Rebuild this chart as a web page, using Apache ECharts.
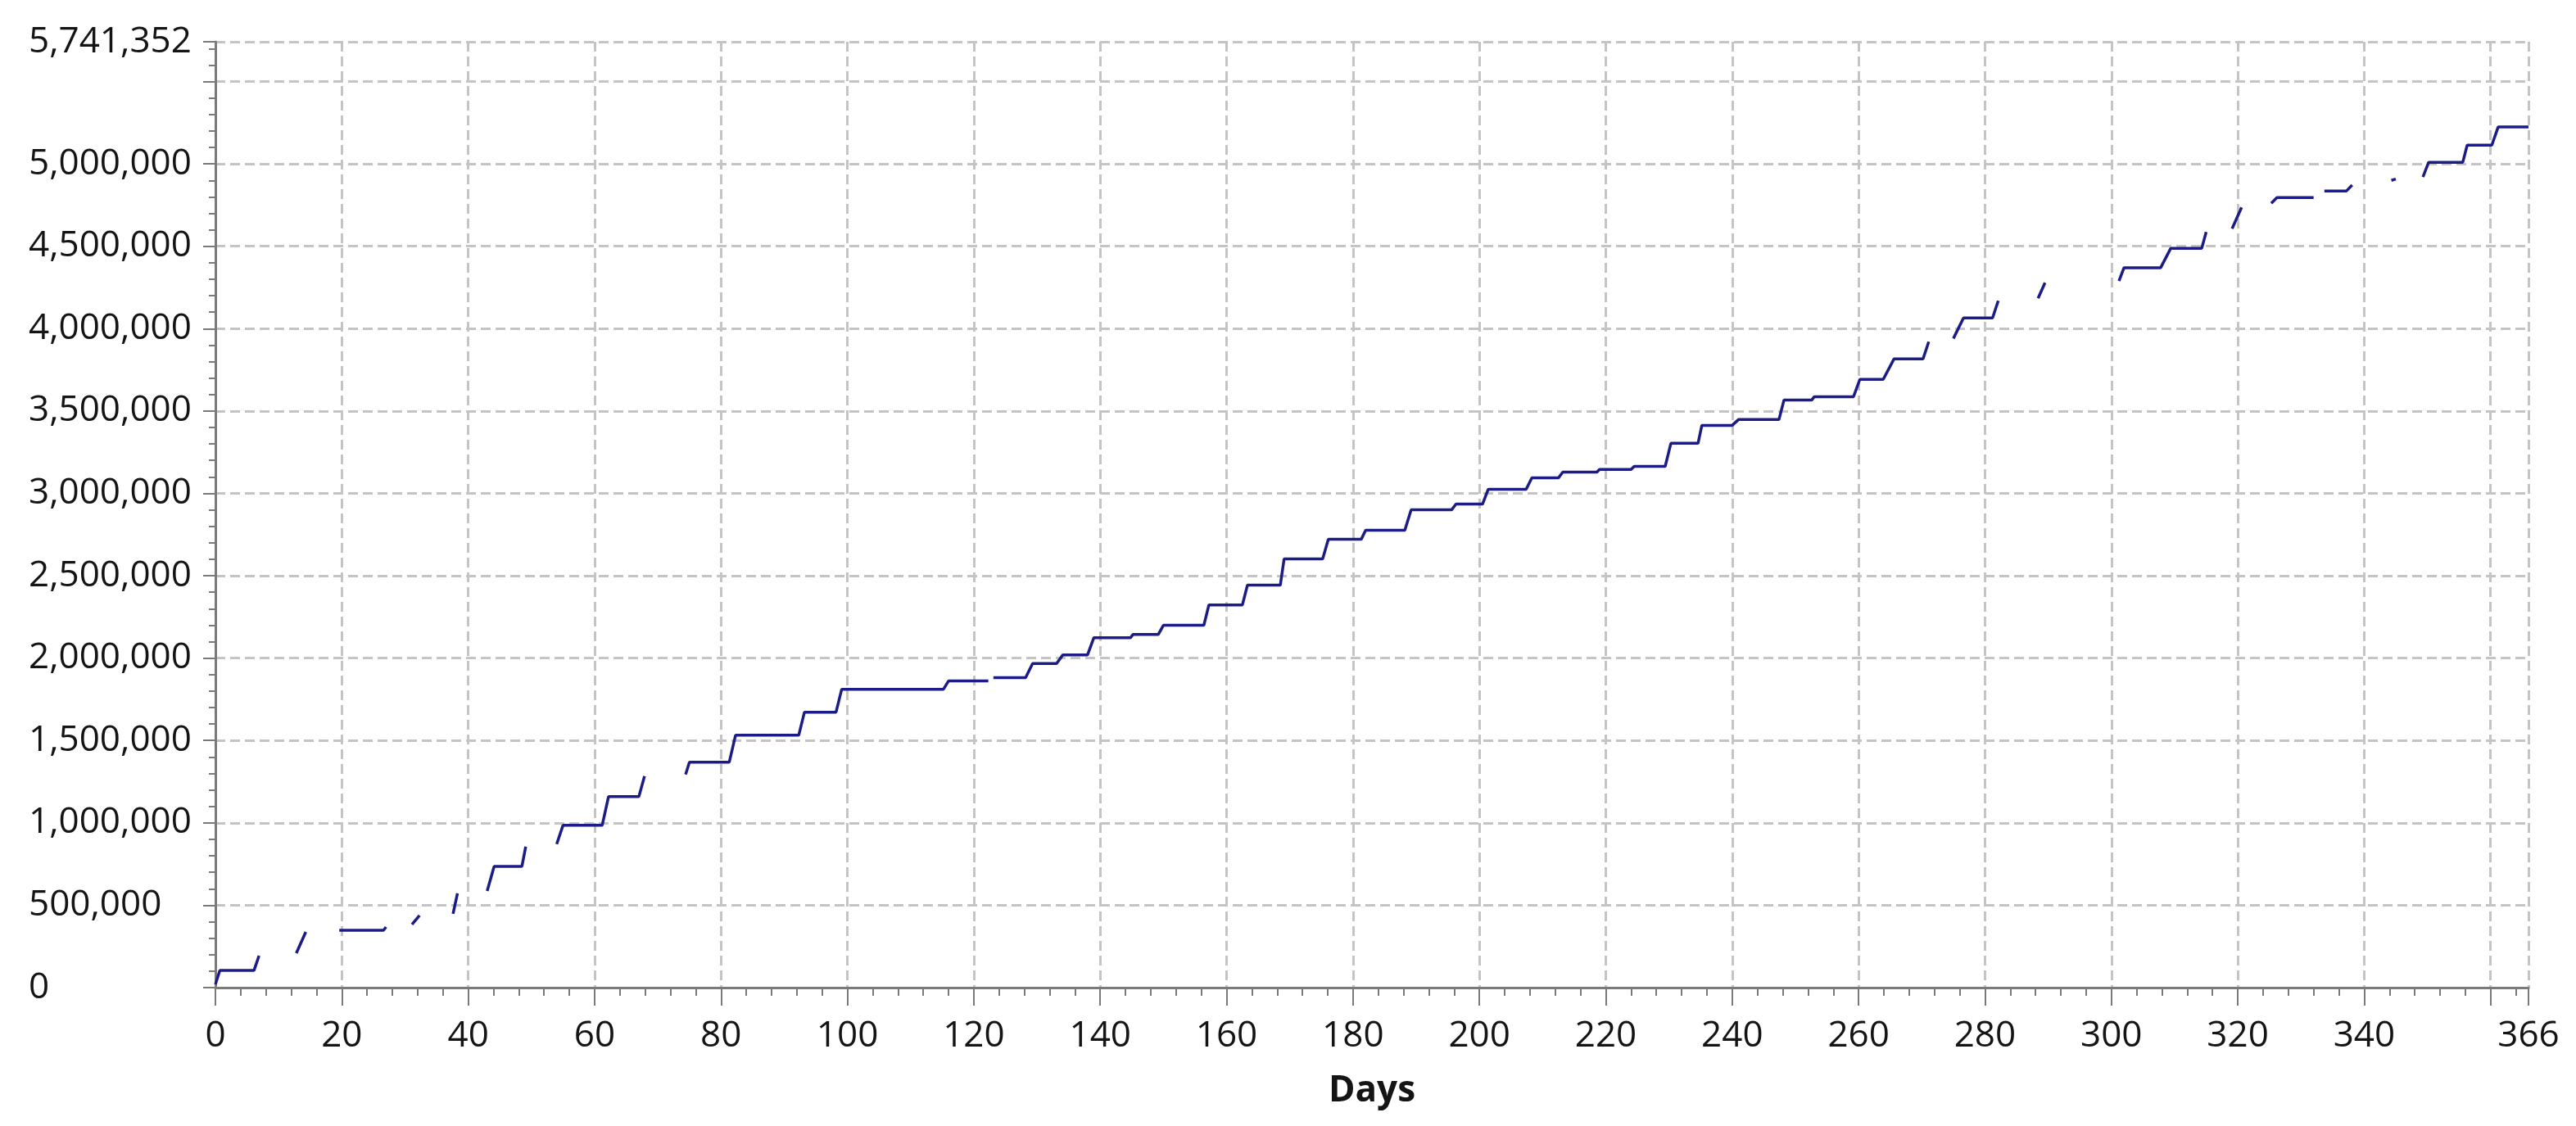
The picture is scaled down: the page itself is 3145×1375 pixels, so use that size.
<!DOCTYPE html>
<html>
<head>
<meta charset="utf-8">
<script src="https://cdn.jsdelivr.net/npm/echarts@6/dist/echarts.min.js"></script>
<style>
html,body{margin:0;padding:0;background:#fff;}
#chart{width:3145px;height:1375px;}
</style>
</head>
<body>
<div id="chart"></div>
<script>
// Day positions and cumulative values (null = gap in the line)
var days = [
  0, 0.7, 6.1, 6.9, 9.9,
  12.8, 14.3, 17,
  19.6, 26.6, 27.0, 29,
  31.1, 32.3, 35,
  37.6, 38.3, 40.5,
  43.0, 44.1, 48.5, 49.1, 51.5,
  54.0, 55.0, 61.2, 62.2, 67.0, 67.9, 71,
  74.4, 75.0, 81.3, 82.3, 92.3, 93.2, 98.2, 99.1, 115.2, 116.0, 122.3, 122.7,
  123.1, 128.2, 129.3, 133.1, 134.1, 138.0, 139.0, 144.8, 145.2, 149.2, 150.0,
  156.4, 157.2, 162.5, 163.3, 168.5, 169.1, 175.2, 176.1, 181.3, 182.0, 188.2,
  189.2, 195.6, 196.3, 200.5, 201.4, 207.4, 208.3, 212.5, 213.2, 218.6, 219.0,
  224.0, 224.5, 229.4, 230.3, 234.6, 235.2, 240.0, 241.0, 247.4, 248.2, 252.6,
  253.0, 259.2, 260.2, 263.9, 265.6, 270.2, 271.1, 273,
  275.0, 276.6, 281.2, 282.1, 285,
  288.4, 289.5, 295,
  301.2, 302.0, 307.8, 309.4, 314.3, 315.0, 317,
  319.1, 320.6, 323,
  325.3, 326.2, 332.0, 332.8,
  333.7, 337.2, 338.1, 341,
  344.3, 345.0, 347,
  349.3, 350.2, 355.6, 356.3, 360.2, 361.2, 366.0
];
var values = [
  20000, 104000, 104000, 194000, null,
  209000, 338000, null,
  348000, 348000, 368000, null,
  383000, 438000, null,
  448000, 572000, null,
  587000, 736000, 736000, 856000, null,
  871000, 985000, 985000, 1159000, 1159000, 1284000, null,
  1294000, 1368000, 1368000, 1532000, 1532000, 1672000, 1672000, 1811000, 1811000, 1861000, 1861000, null,
  1881000, 1881000, 1967000, 1967000, 2020000, 2020000, 2124000, 2124000, 2144000, 2144000, 2199000,
  2199000, 2323000, 2323000, 2443000, 2443000, 2602000, 2602000, 2721000, 2721000, 2776000, 2776000,
  2900000, 2900000, 2935000, 2935000, 3025000, 3025000, 3094000, 3094000, 3129000, 3129000, 3145000,
  3145000, 3164000, 3164000, 3304000, 3304000, 3413000, 3413000, 3448000, 3448000, 3567000, 3567000,
  3587000, 3587000, 3692000, 3692000, 3816000, 3816000, 3921000, null,
  3940000, 4065000, 4065000, 4169000, null,
  4184000, 4279000, null,
  4289000, 4370000, 4370000, 4488000, 4488000, 4587000, null,
  4607000, 4736000, null,
  4761000, 4796000, 4796000, null,
  4836000, 4836000, 4871000, null,
  4900000, 4908000, null,
  4920000, 5010000, 5010000, 5114000, 5114000, 5224000, 5224000
];
var xMin = 0, xMax = 366, xStep = 20;
var yMin = 0, yMax = 5741352, yStep = 500000;
var hiddenXLabels = [360];
var hiddenYLabels = [5500000];
var xTitle = 'Days';

var FONT = 'Open Sans';
var axisColor = '#7a7a7a';
var gridColor = '#c4c4c4';
var textColor = '#141414';

var chart = echarts.init(document.getElementById('chart'), null, {renderer: 'canvas'});
chart.setOption({
  animation: false,
  backgroundColor: '#ffffff',
  grid: {left: 263, right: 58, top: 51, bottom: 169, containLabel: false, outerBoundsMode: 'none'},
  xAxis: {
    type: 'value', min: xMin, max: xMax, interval: xStep,
    axisLine: {show: true, onZero: false, lineStyle: {color: axisColor, width: 3}},
    axisTick: {show: true, length: 22, lineStyle: {color: axisColor, width: 2}},
    minorTick: {show: true, splitNumber: 5, length: 10, lineStyle: {color: axisColor, width: 2}},
    splitLine: {show: true, lineStyle: {color: gridColor, width: 3, type: [12, 6]}},
    minorSplitLine: {show: false},
    axisLabel: {
      fontSize: 44, fontFamily: FONT, color: textColor, margin: 37,
      showMinLabel: true, showMaxLabel: true,
      formatter: function (v) { return hiddenXLabels.indexOf(v) >= 0 ? '' : String(v); }
    },
    name: xTitle, nameLocation: 'middle', nameGap: 104,
    nameTextStyle: {fontSize: 44, fontWeight: 'bold', fontFamily: FONT, color: textColor}
  },
  yAxis: {
    type: 'value', min: yMin, max: yMax, interval: yStep,
    axisLine: {show: true, onZero: false, lineStyle: {color: axisColor, width: 3}},
    axisTick: {show: true, length: 15, lineStyle: {color: axisColor, width: 2}},
    minorTick: {show: true, splitNumber: 5, length: 8, lineStyle: {color: axisColor, width: 2}},
    splitLine: {show: true, lineStyle: {color: gridColor, width: 3, type: [12, 6]}},
    minorSplitLine: {show: false},
    axisLabel: {
      fontSize: 44, fontFamily: FONT, color: textColor, align: 'left', margin: 228,
      showMinLabel: true, showMaxLabel: true,
      formatter: function (v) { return hiddenYLabels.indexOf(v) >= 0 ? '' : v.toLocaleString('en-US'); }
    }
  },
  series: [{
    type: 'line',
    data: days.map(function (d, i) { return [d, values[i]]; }),
    showSymbol: false,
    symbol: 'none',
    connectNulls: false,
    lineStyle: {color: '#1c1c86', width: 3.5},
    itemStyle: {color: '#1c1c86'}
  }]
});
</script>
</body>
</html>
